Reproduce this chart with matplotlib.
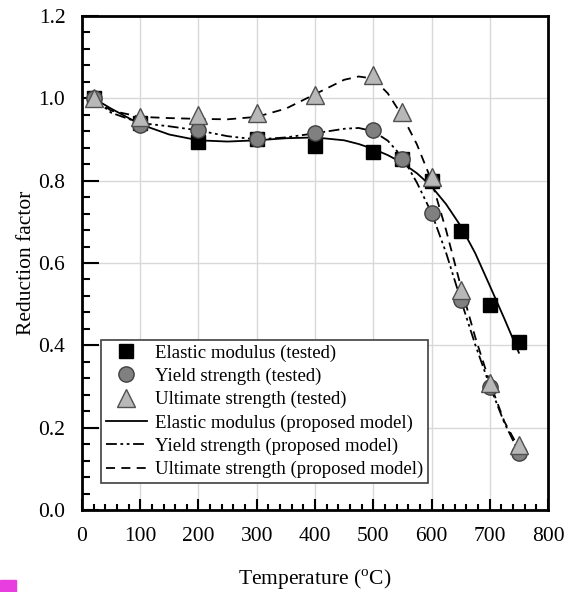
import matplotlib
matplotlib.use("Agg")
import matplotlib.pyplot as plt
from matplotlib.ticker import MultipleLocator
from matplotlib.patches import Rectangle

plt.rcParams['font.family'] = ['Liberation Serif', 'DejaVu Serif']
plt.rcParams['mathtext.fontset'] = 'custom'
plt.rcParams['mathtext.rm'] = 'Liberation Serif'

# Tested data
temp_test = [20, 100, 200, 300, 400, 500, 550, 600, 650, 700, 750]
elastic_test = [1.00, 0.94, 0.895, 0.90, 0.885, 0.87, 0.852, 0.80, 0.678, 0.497, 0.408]
yield_test = [1.00, 0.935, 0.923, 0.90, 0.916, 0.922, 0.852, 0.721, 0.51, 0.30, 0.138]
ult_test = [1.00, 0.955, 0.959, 0.964, 1.008, 1.057, 0.967, 0.81, 0.534, 0.308, 0.157]

# Proposed model curves
temp_model = [20, 50, 100, 150, 200, 250, 300, 350, 400, 450, 475, 500, 525, 550,
              575, 600, 625, 650, 675, 700, 725, 750]
elastic_model = [1.00, 0.975, 0.937, 0.912, 0.898, 0.895, 0.898, 0.903, 0.905, 0.898,
                 0.889, 0.877, 0.862, 0.843, 0.818, 0.786, 0.743, 0.690, 0.624, 0.545,
                 0.465, 0.382]
yield_model = [1.00, 0.965, 0.940, 0.932, 0.922, 0.908, 0.900, 0.905, 0.915, 0.926,
               0.928, 0.920, 0.897, 0.857, 0.795, 0.722, 0.625, 0.512, 0.402, 0.302,
               0.212, 0.140]
ult_model = [1.00, 0.970, 0.955, 0.952, 0.950, 0.949, 0.955, 0.975, 1.010, 1.045,
             1.053, 1.048, 1.012, 0.957, 0.888, 0.800, 0.680, 0.545, 0.420, 0.310,
             0.215, 0.150]

xticks = [0, 100, 200, 300, 400, 500, 600, 700, 800]
yticks = [0.0, 0.2, 0.4, 0.6, 0.8, 1.0, 1.2]

fig = plt.figure(figsize=(5.67, 5.92), dpi=100)
ax = fig.add_axes([0.1446, 0.1385, 0.9665 - 0.1446, 0.973 - 0.1385])

ax.grid(True, color='#d8d8d8', linewidth=1.0, zorder=0)

l4, = ax.plot(temp_model, elastic_model, '-', color='black', lw=1.3, zorder=2)
l5, = ax.plot(temp_model, yield_model, color='black', lw=1.3, zorder=2,
              dashes=[6, 2, 1.5, 2, 1.5, 2])
l6, = ax.plot(temp_model, ult_model, color='black', lw=1.3, zorder=2, dashes=[5, 3.5])

l1, = ax.plot(temp_test, elastic_test, 's', color='black', ms=10, mec='black', zorder=3, lw=0)
l2, = ax.plot(temp_test, yield_test, 'o', color='#808080', ms=11, mec='#404040', mew=1, zorder=4, lw=0)
l3, = ax.plot(temp_test, ult_test, '^', color='#b8b8b8', ms=13, mec='#505050', mew=1, zorder=5, lw=0)

ax.set_xlim(0, 800)
ax.set_ylim(0, 1.2)
ax.set_xticks(xticks)
ax.set_yticks(yticks)
ax.set_yticklabels([f"{v:.1f}" for v in yticks])
ax.xaxis.set_minor_locator(MultipleLocator(20))
ax.yaxis.set_minor_locator(MultipleLocator(0.04))
ax.tick_params(which='both', direction='in', top=False, right=False, labelsize=15.5, width=1.5)
ax.tick_params(axis='y', which='major', length=12, pad=12)
ax.tick_params(axis='y', which='minor', length=6)
ax.tick_params(axis='x', which='major', length=8, pad=12)
ax.tick_params(axis='x', which='minor', length=4)
for s in ax.spines.values():
    s.set_linewidth(2)

ax.set_xlabel("Temperature ($^{\\rm o}$C)", fontsize=15.5, labelpad=16)
ax.set_ylabel("Reduction factor", fontsize=15.5, labelpad=2)

leg = ax.legend([l1, l2, l3, l4, l5, l6],
                ["Elastic modulus (tested)", "Yield strength (tested)",
                 "Ultimate strength (tested)", "Elastic modulus (proposed model)",
                 "Yield strength (proposed model)", "Ultimate strength (proposed model)"],
                loc='lower left', bbox_to_anchor=(0.041, 0.055), fontsize=13.5,
                frameon=True, fancybox=False, edgecolor='#404040', framealpha=1,
                borderpad=0.25, labelspacing=0.32, handlelength=2.2, handletextpad=0.45,
                borderaxespad=0)
leg.get_frame().set_linewidth(1.2)
leg.set_zorder(6)

fig.patches.append(Rectangle((0, 0), 16 / 567, 12 / 592, transform=fig.transFigure,
                             color='#e83ee0', zorder=10))

fig.savefig("out.png", dpi=100)
